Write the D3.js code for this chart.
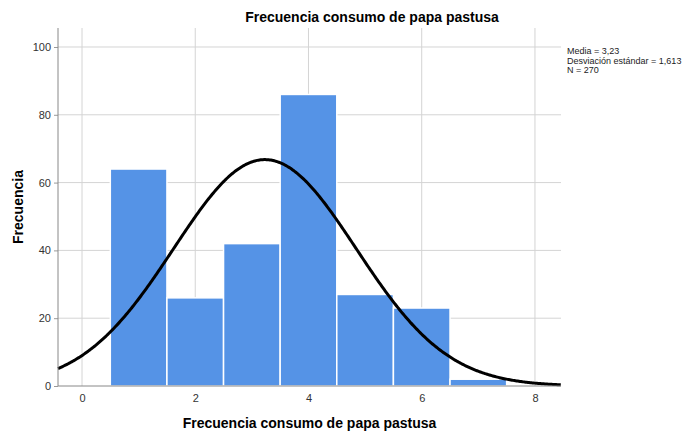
<!DOCTYPE html>
<html>
<head>
<meta charset="utf-8">
<script src="https://cdn.jsdelivr.net/npm/d3@7"></script>
<style>
  body { margin: 0; background: #fff; }
  text { font-family: "Liberation Sans", Arial, sans-serif; }
  .tick text { fill: #333; font-size: 11px; }
</style>
</head>
<body>
<svg id="chart" width="691" height="433"></svg>
<script>
// histogram data (bin centre, count)
var binCenters = [1, 2, 3, 4, 5, 6, 7];
var binCounts = [64, 26, 42, 86, 27, 23, 2];
var binWidth = 1;
var xTicks = [0, 2, 4, 6, 8];
var yTicks = [0, 20, 40, 60, 80, 100];

// stats shown in the legend
var media = 3.23, desv = 1.613, n = 270;
var statLines = ["Media = 3,23", "Desviación estándar = 1,613", "N = 270"];

var svg = d3.select("#chart");
var margin = {top: 28, right: 130, bottom: 47, left: 58},
    width = 691 - margin.left - margin.right,
    height = 433 - margin.top - margin.bottom,
    g = svg.append("g").attr("transform", "translate(" + margin.left + "," + margin.top + ")");

var x = d3.scaleLinear().domain([-0.424, 8.46]).range([0, width]);
var y = d3.scaleLinear().domain([0, 105.6]).range([height, 0]);

// grid
g.selectAll(".hgrid").data(yTicks.slice(1)).enter().append("line")
    .attr("x1", 0).attr("x2", width)
    .attr("y1", function(d) { return y(d); }).attr("y2", function(d) { return y(d); })
    .style("stroke", "#d4d4d4");
g.selectAll(".vgrid").data(xTicks).enter().append("line")
    .attr("x1", function(d) { return x(d); }).attr("x2", function(d) { return x(d); })
    .attr("y1", 0).attr("y2", height)
    .style("stroke", "#d4d4d4");

// bars
g.selectAll(".bar").data(binCenters).enter().append("rect")
    .attr("x", function(d) { return x(d - binWidth / 2); })
    .attr("width", function(d) { return x(d + binWidth / 2) - x(d - binWidth / 2); })
    .attr("y", function(d, i) { return y(binCounts[i]); })
    .attr("height", function(d, i) { return height - y(binCounts[i]); })
    .style("fill", "#5593e6")
    .style("stroke", "#fff")
    .style("stroke-width", 1.5);

// fitted normal curve from the legend stats
var curveX = d3.range(x.domain()[0], x.domain()[1] + 0.001, 0.02);
var line = d3.line()
    .x(function(d) { return x(d); })
    .y(function(d) {
        var z = (d - media) / desv;
        return y(n * binWidth / (desv * Math.sqrt(2 * Math.PI)) * Math.exp(-0.5 * z * z));
    });
g.append("path").datum(curveX)
    .attr("d", line)
    .style("fill", "none")
    .style("stroke", "#000")
    .style("stroke-width", 3);

// axes
var yAxis = d3.axisLeft(y).tickValues(yTicks).tickSize(4).tickPadding(3);
var xAxis = d3.axisBottom(x).tickValues(xTicks).tickSize(0).tickPadding(8);
g.append("g").call(yAxis).call(function(s) {
    s.select(".domain").remove();
    s.selectAll(".tick line").style("stroke", "#999");
});
g.append("g").attr("transform", "translate(0," + height + ")").call(xAxis)
    .call(function(s) { s.select(".domain").remove(); });
g.append("line").attr("x1", 0).attr("x2", 0).attr("y1", 0).attr("y2", height)
    .style("stroke", "#888");
g.append("line").attr("x1", 0).attr("x2", width).attr("y1", height).attr("y2", height)
    .style("stroke", "#888");

// titles
svg.append("text").attr("x", 372).attr("y", 22)
    .style("text-anchor", "middle").style("font-size", "14px").style("font-weight", "bold")
    .text("Frecuencia consumo de papa pastusa");
svg.append("text").attr("x", margin.left + width / 2).attr("y", 428)
    .style("text-anchor", "middle").style("font-size", "14px").style("font-weight", "bold")
    .text("Frecuencia consumo de papa pastusa");
svg.append("text").attr("transform", "translate(23,207) rotate(-90)")
    .style("text-anchor", "middle").style("font-size", "14px").style("font-weight", "bold")
    .text("Frecuencia");

// stats legend (slightly condensed like the original)
svg.append("g").attr("transform", "translate(567,0) scale(0.94,1)")
    .selectAll("text").data(statLines).enter().append("text")
    .attr("x", 0).attr("y", function(d, i) { return 54.5 + i * 9.5; })
    .style("font-size", "9.6px").style("fill", "#222")
    .text(function(d) { return d; });
</script>
</body>
</html>
